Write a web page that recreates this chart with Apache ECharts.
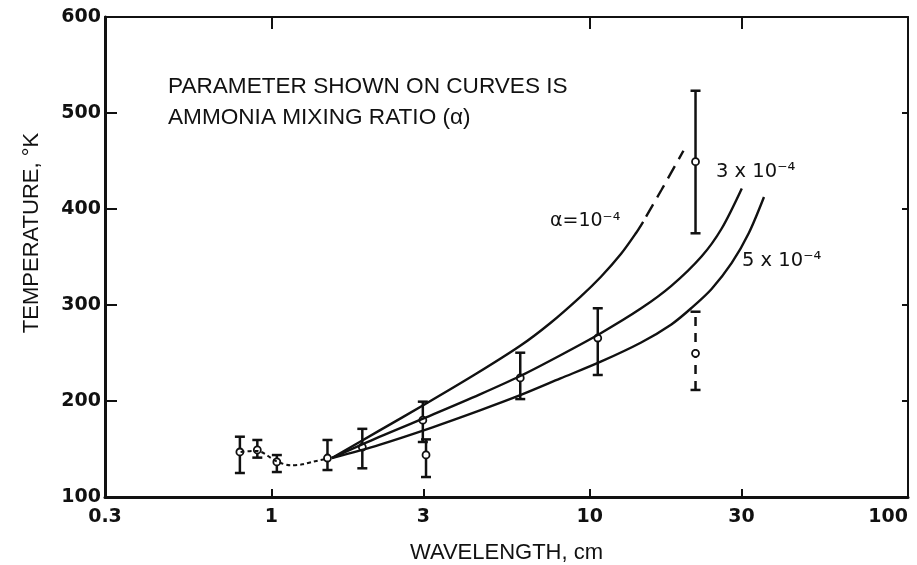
<!DOCTYPE html>
<html><head><meta charset="utf-8">
<script src="https://cdn.jsdelivr.net/npm/echarts@6/dist/echarts.min.js"></script>
<style>html,body{margin:0;padding:0;background:#fff}#c{width:917px;height:565px}</style>
</head><body><div id="c"></div>
<script>
// Axis ticks / labels
const xTickLabels = [0.3, 1, 3, 10, 30, 100];
const xTicksBottom = [1, 3, 10, 30];
const xTicksTop = [1, 10, 30];
const yTicksRight = [200, 300, 400, 500];

// Curves: [wavelength cm, temperature K]
const curveA = [[1.549,140.6],[2.182,169.1],[3.027,196.3],[4.357,227.5],[6.048,257.5],[7.526,281.3],[9.365,308.8],[10.83,329.2],[12.53,353.1],[13.98,375],[14.72,386.7]];
const curveADashed = [[14.72,386.7],[16.78,419.5],[19.70,460.7]];
const curve3 = [[1.549,140.6],[2.182,162.6],[3.209,185.8],[4.520,206.9],[6.048,226],[8.094,247.7],[10.83,270.6],[14.51,296.5],[18.05,319.9],[22.45,350.5],[25.98,379.7],[30.05,421.4]];
const curve5 = [[1.549,140.6],[2.182,154.4],[3.209,172.6],[4.520,190.2],[6.048,206],[8.094,223.5],[10.83,241],[14.51,261],[18.05,279.8],[20.88,296.9],[24.15,316.7],[27.94,343.8],[31.62,375],[35.28,412.5]];

// Low-wavelength measurements joined by a dotted trace
const lowTrace = [[0.80,147],[0.90,148],[1.04,137],[1.15,133],[1.25,134],[1.36,137],[1.50,140]];

// Error bars: [wavelength, low, high, point]
const errorBars = [
  [0.796,125,162.8,146.9],
  [0.903,141,159.4,149],
  [1.04,126,143.7,136.5],
  [1.50,128.1,159.4,140.6],
  [1.93,129.9,171,152],
  [2.99,157.3,199.3,180],
  [3.06,120.8,160,143.8],
  [6.05,202,250.3,224],
  [10.6,227.1,296.6,265.6],
  [21.5,374.7,523.2,449.3]
];
const errorBarsDashed = [[21.5,211.5,293,249.7]];

const INK = '#111';

function barRenderer(dashed){
  return function(params, api){
    const x = api.value(0), lo = api.value(1), hi = api.value(2), mid = api.value(3);
    const pLo = api.coord([x, lo]), pHi = api.coord([x, hi]), pM = api.coord([x, mid]);
    const w = 5;
    const st = {stroke: INK, lineWidth: 2.5, lineDash: dashed ? [9,7] : null, fill: null};
    const cap = {stroke: INK, lineWidth: 2.5, fill: null};
    return {type:'group', children:[
      {type:'line', shape:{x1:pLo[0], y1:pLo[1], x2:pHi[0], y2:pHi[1]}, style: st},
      {type:'line', shape:{x1:pLo[0]-w, y1:pLo[1], x2:pLo[0]+w, y2:pLo[1]}, style: cap},
      {type:'line', shape:{x1:pHi[0]-w, y1:pHi[1], x2:pHi[0]+w, y2:pHi[1]}, style: cap},
      {type:'circle', shape:{cx:pM[0], cy:pM[1], r:3.5}, style:{fill:'#fff', stroke:INK, lineWidth:1.8}}
    ]};
  };
}

const labelFont = {fontFamily:'DejaVu Sans', fontWeight:'bold', fontSize:19, color:INK};
const chart = echarts.init(document.getElementById('c'), null, {renderer:'canvas'});
chart.setOption({
  animation:false,
  backgroundColor:'#fff',
  grid:{left:105, right:9, top:17, bottom:68, containLabel:false, outerBoundsMode:'none'},
  xAxis:[{
    type:'log', logBase:10, min:0.3, max:100, position:'bottom',
    axisLine:{show:true, lineStyle:{color:INK, width:3}},
    axisTick:{show:true, inside:true, length:8, customValues:xTicksBottom, lineStyle:{color:INK, width:2}},
    axisLabel:Object.assign({show:true, margin:11, customValues:xTickLabels, alignMaxLabel:'right',
      formatter:function(v){return String(+(+v).toPrecision(3));}}, labelFont),
    splitLine:{show:false}, minorTick:{show:false},
    name:'WAVELENGTH, cm', nameLocation:'middle', nameGap:45,
    nameTextStyle:{fontFamily:'Liberation Sans', fontSize:22, color:INK}
  },{
    type:'log', logBase:10, min:0.3, max:100, position:'top',
    axisLine:{show:true, lineStyle:{color:INK, width:2}},
    axisTick:{show:true, inside:true, length:12, customValues:xTicksTop, lineStyle:{color:INK, width:2}},
    axisLabel:{show:false}, splitLine:{show:false}
  }],
  yAxis:[{
    type:'value', min:100, max:600, interval:100, position:'left',
    axisLine:{show:true, lineStyle:{color:INK, width:3}},
    axisTick:{show:true, inside:true, length:12, lineStyle:{color:INK, width:2}},
    axisLabel:Object.assign({show:true, margin:4}, labelFont),
    splitLine:{show:false},
    name:'TEMPERATURE, °K', nameLocation:'middle', nameGap:62,
    nameTextStyle:{fontFamily:'Liberation Sans', fontSize:22, color:INK, padding:[0,0,0,48]}
  },{
    type:'value', min:100, max:600, interval:100, position:'right',
    axisLine:{show:true, lineStyle:{color:INK, width:2}},
    axisTick:{show:true, inside:true, length:6, customValues:yTicksRight, lineStyle:{color:INK, width:2}},
    axisLabel:{show:false}, splitLine:{show:false}
  }],
  series:[
    {type:'line', data:curveA, smooth:0.3, symbol:'none', lineStyle:{color:INK, width:2.4}},
    {type:'line', data:curveADashed, smooth:0.3, symbol:'none', lineStyle:{color:INK, width:2.4, type:[14,8], dashOffset:-6}},
    {type:'line', data:curve3, smooth:0.3, symbol:'none', lineStyle:{color:INK, width:2.4}},
    {type:'line', data:curve5, smooth:0.3, symbol:'none', lineStyle:{color:INK, width:2.4}},
    {type:'line', data:lowTrace, smooth:0.3, symbol:'none', lineStyle:{color:INK, width:2, type:[4,3]}},
    {type:'custom', data:errorBars, encode:{x:0, y:[1,2,3]}, renderItem:barRenderer(false)},
    {type:'custom', data:errorBarsDashed, encode:{x:0, y:[1,2,3]}, renderItem:barRenderer(true)}
  ],
  graphic:[
    {type:'text', left:168, top:71, style:{text:'PARAMETER SHOWN ON CURVES IS\nAMMONIA MIXING RATIO (α)', fontFamily:'Liberation Sans', fontSize:22.6, lineHeight:31, fill:INK}},
    {type:'text', x:550, y:221, style:{text:'α=10⁻⁴', fontFamily:'DejaVu Sans', fontSize:19, fill:INK, verticalAlign:'middle', align:'left'}},
    {type:'text', x:716, y:172, style:{text:'3 x 10⁻⁴', fontFamily:'DejaVu Sans', fontSize:19.5, fill:INK, verticalAlign:'middle', align:'left'}},
    {type:'text', x:742, y:261, style:{text:'5 x 10⁻⁴', fontFamily:'DejaVu Sans', fontSize:19.5, fill:INK, verticalAlign:'middle', align:'left'}}
  ]
});
</script></body></html>
